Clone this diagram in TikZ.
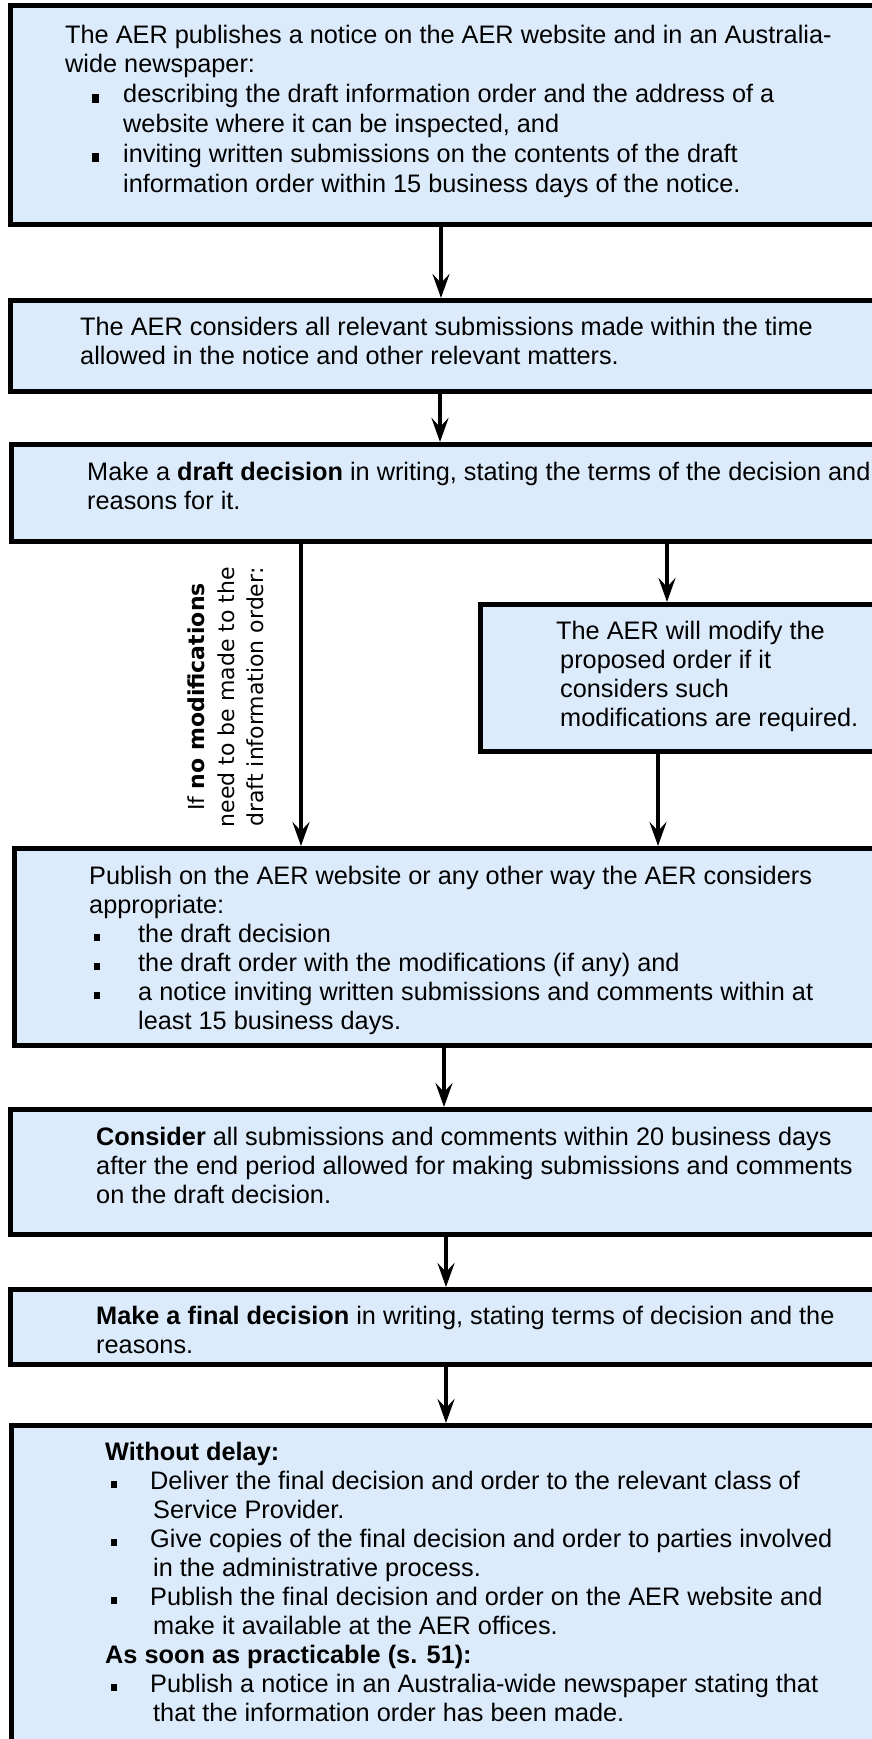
\documentclass[tikz,border=0pt]{standalone}
\usepackage{fontspec}
\setmainfont{Liberation Sans}
\newfontfamily\sidefont{DejaVu Sans}
\usetikzlibrary{arrows.meta}
\definecolor{boxblue}{RGB}{220,235,251}
\newcommand{\fs}{\fontsize{25.3}{29}\selectfont}
\newcommand{\ts}{\rule{0pt}{20pt}}
\newcommand{\bigsq}{\rule[0pt]{7pt}{9pt}}
\newcommand{\smsq}{\rule[1pt]{6pt}{7pt}}
\begin{document}
\begin{tikzpicture}[x=1pt,y=-1pt,
  box/.style={draw=black,line width=5pt,fill=boxblue,inner sep=0pt,anchor=north west},
  txt/.style={anchor=north west,inner sep=0pt,align=left,font=\fs},
  flow/.style={line width=4.5pt,-{Stealth[length=24pt,width=17pt,inset=9pt]}}]
\useasboundingbox (0,0) rectangle (872,1739);
\clip (0,0) rectangle (872,1739);
% boxes
\node[box,minimum width=890pt,minimum height=219pt] (b1) at (7.5,3) {};
\node[box,minimum width=890pt,minimum height=91pt] (b2) at (7.5,298) {};
\node[box,minimum width=890pt,minimum height=97pt] (b3) at (8.5,442) {};
\node[box,minimum width=420pt,minimum height=147pt] (mod) at (478,602) {};
\node[box,minimum width=890pt,minimum height=197pt] (b4) at (11.5,846) {};
\node[box,minimum width=890pt,minimum height=125pt] (b5) at (7.5,1107) {};
\node[box,minimum width=890pt,minimum height=75pt] (b6) at (7.5,1287) {};
\node[box,minimum width=890pt,minimum height=370pt] (b7) at (8.5,1423) {};

% texts
\node[txt,font=\fontsize{25.3}{29.8}\selectfont] (t1) at (65,23) {\ts The AER publishes a notice on the AER website and in an Australia-\\
wide newspaper:\\
\hspace*{27pt}\makebox[31pt][l]{\bigsq}describing the draft information order and the address of a\\
\hspace*{58pt}website where it can be inspected, and\\
\hspace*{27pt}\makebox[31pt][l]{\bigsq}inviting written submissions on the contents of the draft\\
\hspace*{58pt}information order within 15 business days of the notice.};
\node[txt] (t2) at (80,315) {\ts The AER considers all relevant submissions made within the time\\
allowed in the notice and other relevant matters.};
\node[txt] (t3) at (87,460) {\ts Make a \textbf{draft decision} in writing, stating the terms of the decision and\\
reasons for it.};
\node[txt] (tmod) at (556,619) {\ts The AER will modify the\\
\hspace*{4pt}proposed order if it\\
\hspace*{4pt}considers such\\
\hspace*{4pt}modifications are required.};
\node[txt] (t4) at (89,864) {\ts Publish on the AER website or any other way the AER considers\\
appropriate:\\
\hspace*{5pt}\makebox[44pt][l]{\smsq}the draft decision\\
\hspace*{5pt}\makebox[44pt][l]{\smsq}the draft order with the modifications (if any) and\\
\hspace*{5pt}\makebox[44pt][l]{\smsq}a notice inviting written submissions and comments within at\\
\hspace*{49pt}least 15 business days.};
\node[txt] (t5) at (96,1125) {\ts\textbf{Consider} all submissions and comments within 20 business days\\
after the end period allowed for making submissions and comments\\
on the draft decision.};
\node[txt] (t6) at (96,1304) {\ts\textbf{Make a final decision} in writing, stating terms of decision and the\\
reasons.};
\node[txt] (t7) at (105,1440) {\ts\textbf{Without delay:}\\
\hspace*{6pt}\makebox[39pt][l]{\smsq}Deliver the final decision and order to the relevant class of\\
\hspace*{48pt}Service Provider.\\
\hspace*{6pt}\makebox[39pt][l]{\smsq}Give copies of the final decision and order to parties involved\\
\hspace*{48pt}in the administrative process.\\
\hspace*{6pt}\makebox[39pt][l]{\smsq}Publish the final decision and order on the AER website and\\
\hspace*{48pt}make it available at the AER offices.\\
\textbf{As soon as practicable (s. 51):}\\
\hspace*{6pt}\makebox[39pt][l]{\smsq}Publish a notice in an Australia-wide newspaper stating that\\
\hspace*{48pt}that the information order has been made.};

% side label
\node[rotate=90,align=center,inner sep=0pt,font=\sidefont\fontsize{22}{29.5}\selectfont] (side) at (226,697)
  {If \textbf{no modifications}\\ need to be made to the\\ draft information order:};

% arrows
\draw[flow] (b1.south -| 441,0) -- (b2.north -| 441,0);
\draw[flow] (b2.south -| 440,0) -- (b3.north -| 440,0);
\draw[flow] (b3.south -| 301,0) -- (b4.north -| 301,0);
\draw[flow] (b3.south -| 667,0) -- (mod.north -| 667,0);
\draw[flow] (mod.south -| 658,0) -- (b4.north -| 658,0);
\draw[flow] (b4.south -| 444,0) -- (b5.north -| 444,0);
\draw[flow] (b5.south -| 446,0) -- (b6.north -| 446,0);
\draw[flow] (b6.south -| 446,0) -- (b7.north -| 446,0);
\end{tikzpicture}
\end{document}
